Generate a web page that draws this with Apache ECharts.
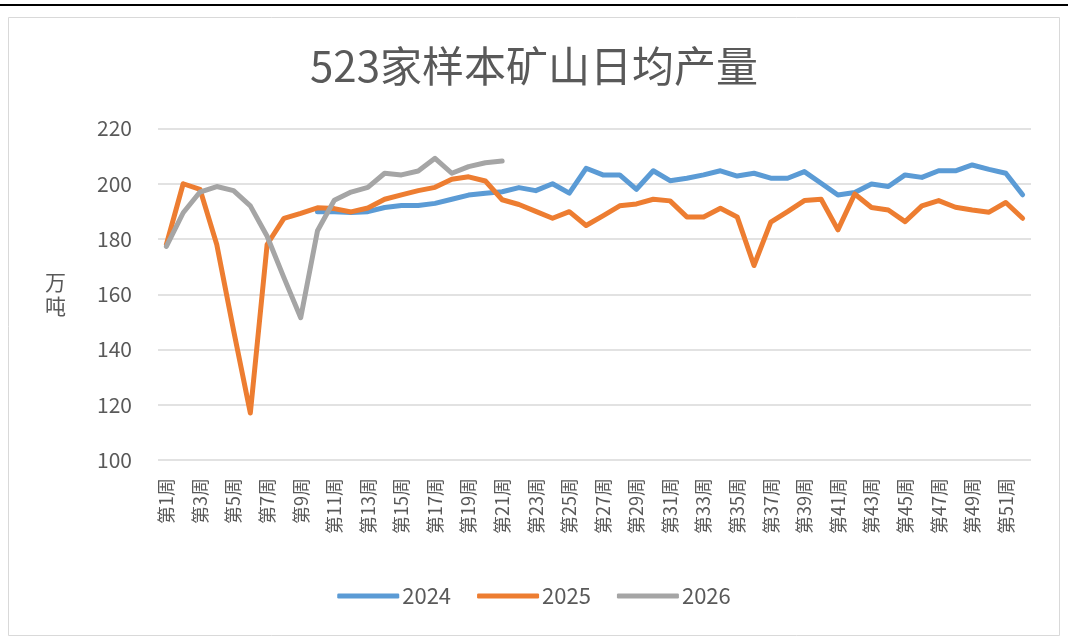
<!DOCTYPE html>
<html>
<head>
<meta charset="utf-8">
<script src="https://cdn.jsdelivr.net/npm/echarts@6/dist/echarts.min.js"></script>
<style>html,body{margin:0;padding:0;background:#fff;}#c{width:1068px;height:644px;}</style>
</head>
<body>
<div id="c"></div>
<script>
const title = '523家样本矿山日均产量';
const yName = '万\n吨';
const weeks = [];
for (let i = 1; i <= 52; i++) weeks.push('第' + i + '周');
const seriesNames = ['2024', '2025', '2026'];
const s2024 = [null, null, null, null, null, null, null, null, null,
  189.9, 189.9, 189.6, 189.9, 191.4, 192.1, 192.1, 192.9, 194.4, 195.9, 196.6,
  197.1, 198.6, 197.5, 200.0, 196.6, 205.6, 203.2, 203.2, 198.0, 204.7,
  201.1, 202.0, 203.2, 204.7, 202.8, 203.8, 202.0, 202.0, 204.4, 200.2,
  195.9, 196.8, 199.9, 199.0, 203.2, 202.3, 204.7, 204.7, 206.8, 205.2,
  203.8, 196.0];
const s2025 = [178.0, 200.0, 198.0, 178.0, 147.0, 117.0, 178.0, 187.5, 189.3, 191.3,
  191.0, 189.8, 191.2, 194.4, 196.0, 197.5, 198.7, 201.6, 202.5, 201.0,
  194.2, 192.5, 190.0, 187.5, 189.9, 184.9, 188.4, 192.0, 192.7, 194.4,
  193.8, 188.0, 188.0, 191.1, 188.0, 170.4, 186.1, 189.9, 193.9, 194.4,
  183.3, 196.3, 191.4, 190.5, 186.3, 192.0, 193.9, 191.5, 190.5, 189.7,
  193.2, 187.5];
const s2026 = [177.3, 189.5, 197.0, 199.0, 197.5, 192.0, 181.0, 166.0, 151.5, 183.0,
  194.0, 197.0, 198.7, 203.8, 203.2, 204.6, 209.2, 203.8, 206.2, 207.6, 208.2];
const colors = ['#5B9BD5', '#ED7D31', '#A5A5A5'];
const font = '"Noto Sans CJK SC", "Noto Sans", sans-serif';

const chart = echarts.init(document.getElementById('c'), null, {renderer: 'canvas'});
const mk = (name, data, color) => ({
  name, type: 'line', data, symbol: 'none', showSymbol: false, smooth: false, connectNulls: false,
  lineStyle: {color: color, width: 5, cap: 'round', join: 'round'},
  itemStyle: {color: color},
  emphasis: {disabled: true}
});
chart.setOption({
  animation: false,
  backgroundColor: '#fff',
  color: colors,
  title: {
    text: title, left: 'center', top: 40,
    textStyle: {fontFamily: font, fontSize: 42, fontWeight: 'normal', color: '#595959'}
  },
  legend: {
    data: seriesNames.map(n => ({name: n, icon: 'roundRect'})), bottom: 32, left: 'center',
    itemWidth: 62, itemHeight: 5, itemGap: 26,
    textStyle: {fontFamily: font, fontSize: 22, color: '#595959', padding: [0, 0, 0, -2]}
  },
  grid: {left: 158, right: 37, top: 128.5, bottom: 184, containLabel: false},
  xAxis: {
    type: 'category', data: weeks, boundaryGap: true,
    axisLine: {show: false}, axisTick: {show: false},
    axisLabel: {interval: 1, rotate: 90, margin: 18, fontFamily: font, fontSize: 18, color: '#595959'}
  },
  yAxis: {
    type: 'value', min: 100, max: 220, interval: 20,
    name: yName, nameLocation: 'middle', nameRotate: 0, nameGap: 92,
    nameTextStyle: {fontFamily: font, fontSize: 21, color: '#595959', lineHeight: 24},
    axisLine: {show: false}, axisTick: {show: false},
    axisLabel: {margin: 26, fontFamily: font, fontSize: 21, color: '#595959'},
    splitLine: {lineStyle: {color: '#D9D9D9', width: 1.5}}
  },
  series: [mk('2024', s2024, colors[0]), mk('2025', s2025, colors[1]), mk('2026', s2026, colors[2])],
  graphic: [
    {type: 'rect', shape: {x: 8.5, y: 17.5, width: 1051, height: 618}, style: {fill: null, stroke: '#D9D9D9', lineWidth: 1}, silent: true},
    {type: 'rect', shape: {x: 0, y: 4, width: 1068, height: 2}, style: {fill: '#000'}, silent: true}
  ]
});
</script>
</body>
</html>
